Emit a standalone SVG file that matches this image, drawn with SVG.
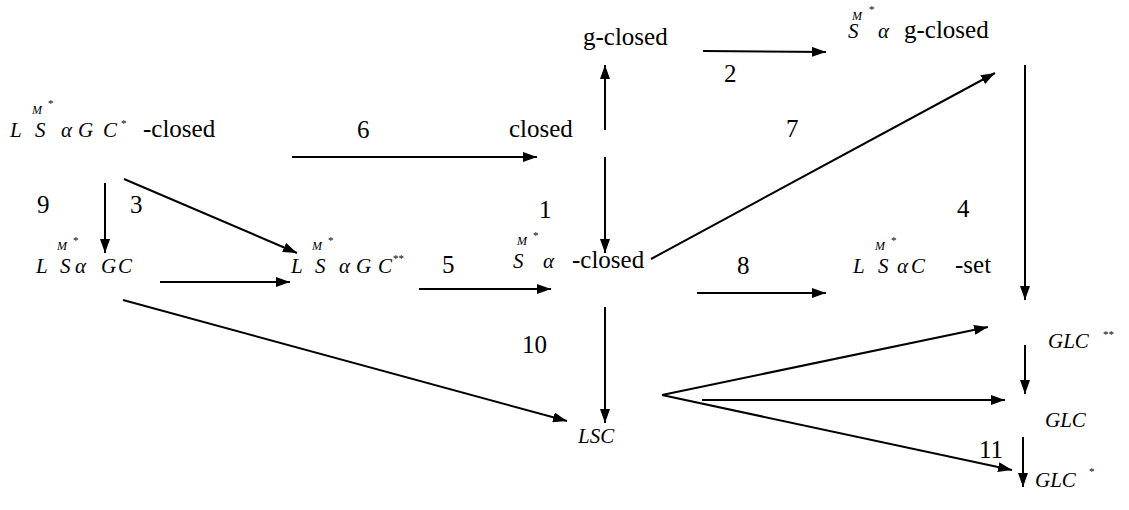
<svg xmlns="http://www.w3.org/2000/svg" width="1129" height="510" viewBox="0 0 1129 510">
<defs>
<marker id="ah" viewBox="0 0 14 10" refX="14" refY="5" markerWidth="14" markerHeight="10" markerUnits="userSpaceOnUse" orient="auto">
<path d="M0,0 L14,5 L0,10 z" fill="#000"/>
</marker>
</defs>
<style>
text{font-family:"Liberation Serif","Times New Roman",serif;fill:#000}
.t{font-size:25px}
.m{font-size:21px;font-style:italic}
.s{font-size:12px;font-style:italic}
.st{font-size:11px}
.c line{stroke:#000;stroke-width:2;marker-end:url(#ah)}
</style>
<rect width="1129" height="510" fill="#fff"/>

<g id="n_lsagcstar_closed">
<text class="m" y="137"><tspan x="10">L</tspan><tspan x="35">S</tspan><tspan x="61">α</tspan><tspan x="78">G</tspan><tspan x="103">C</tspan></text>
<text class="s" x="32" y="114">M</text>
<text class="st" x="48" y="107">*</text>
<text class="st" x="121" y="127">*</text>
<text class="t" x="143" y="137">-closed</text>
</g>

<g id="n_closed"><text class="t" x="509" y="137">closed</text></g>
<g id="n_gclosed"><text class="t" x="583" y="45">g-closed</text></g>

<g id="n_smag_closed">
<text class="m" x="848" y="38">S</text>
<text class="s" x="852" y="20">M</text>
<text class="st" x="869" y="13">*</text>
<text class="m" x="878" y="38">α</text>
<text class="t" x="904" y="38">g-closed</text>
</g>

<g id="n_lsagc">
<text class="m" y="273"><tspan x="36">L</tspan><tspan x="60">S</tspan><tspan x="75">α</tspan><tspan x="101">G</tspan><tspan x="118">C</tspan></text>
<text class="s" x="57" y="250">M</text>
<text class="st" x="73" y="244">*</text>
</g>

<g id="n_lsagc2">
<text class="m" y="273"><tspan x="291">L</tspan><tspan x="315">S</tspan><tspan x="339">α</tspan><tspan x="356">G</tspan><tspan x="378">C</tspan></text>
<text class="s" x="312" y="250">M</text>
<text class="st" x="328" y="244">*</text>
<text class="st" x="393" y="262">**</text>
</g>

<g id="n_sa_closed">
<text class="m" x="513" y="268">S</text>
<text class="s" x="517" y="245">M</text>
<text class="st" x="533" y="239">*</text>
<text class="m" x="543" y="268">α</text>
<text class="t" x="572" y="268">-closed</text>
</g>

<g id="n_lsac_set">
<text class="m" y="273"><tspan x="853">L</tspan><tspan x="878">S</tspan><tspan x="897">α</tspan><tspan x="911">C</tspan></text>
<text class="s" x="875" y="250">M</text>
<text class="st" x="891" y="244">*</text>
<text class="t" x="955" y="273">-set</text>
</g>

<g id="n_lsc"><text class="m" x="578" y="443">LSC</text></g>

<g id="n_glc2">
<text class="m" x="1048" y="348">GLC</text>
<text class="st" x="1103" y="338">**</text>
</g>
<g id="n_glc"><text class="m" x="1045" y="427">GLC</text></g>
<g id="n_glc1">
<text class="m" x="1035" y="487">GLC</text>
<text class="st" x="1089" y="475">*</text>
</g>

<g id="labels">
<text class="t" x="724" y="82">2</text>
<text class="t" x="357" y="138">6</text>
<text class="t" x="786" y="137">7</text>
<text class="t" x="539" y="218">1</text>
<text class="t" x="37" y="213">9</text>
<text class="t" x="130" y="213">3</text>
<text class="t" x="957" y="217">4</text>
<text class="t" x="442" y="273">5</text>
<text class="t" x="737" y="274">8</text>
<text class="t" x="522" y="353">10</text>
<text class="t" x="979" y="458">11</text>
</g>

<g id="connectors" class="c">
<line x1="605" y1="130" x2="605" y2="65"/>
<line x1="703" y1="51" x2="826" y2="52"/>
<line x1="292" y1="157" x2="537" y2="157"/>
<line x1="605" y1="157" x2="605" y2="253"/>
<line x1="651" y1="259" x2="995" y2="73"/>
<line x1="1025" y1="65" x2="1025" y2="300"/>
<line x1="105" y1="183" x2="105" y2="253"/>
<line x1="124" y1="179" x2="297" y2="253"/>
<line x1="160" y1="282" x2="290" y2="282"/>
<line x1="419" y1="289" x2="551" y2="289"/>
<line x1="697" y1="293" x2="826" y2="293"/>
<line x1="123" y1="300" x2="567" y2="421"/>
<line x1="605" y1="307" x2="605" y2="423"/>
<line x1="662" y1="395" x2="988" y2="327"/>
<line x1="702" y1="400" x2="1005" y2="400"/>
<line x1="662" y1="395" x2="1012" y2="470"/>
<line x1="1025" y1="345" x2="1025" y2="394"/>
<line x1="1023" y1="437" x2="1023" y2="487"/>
</g>
</svg>
